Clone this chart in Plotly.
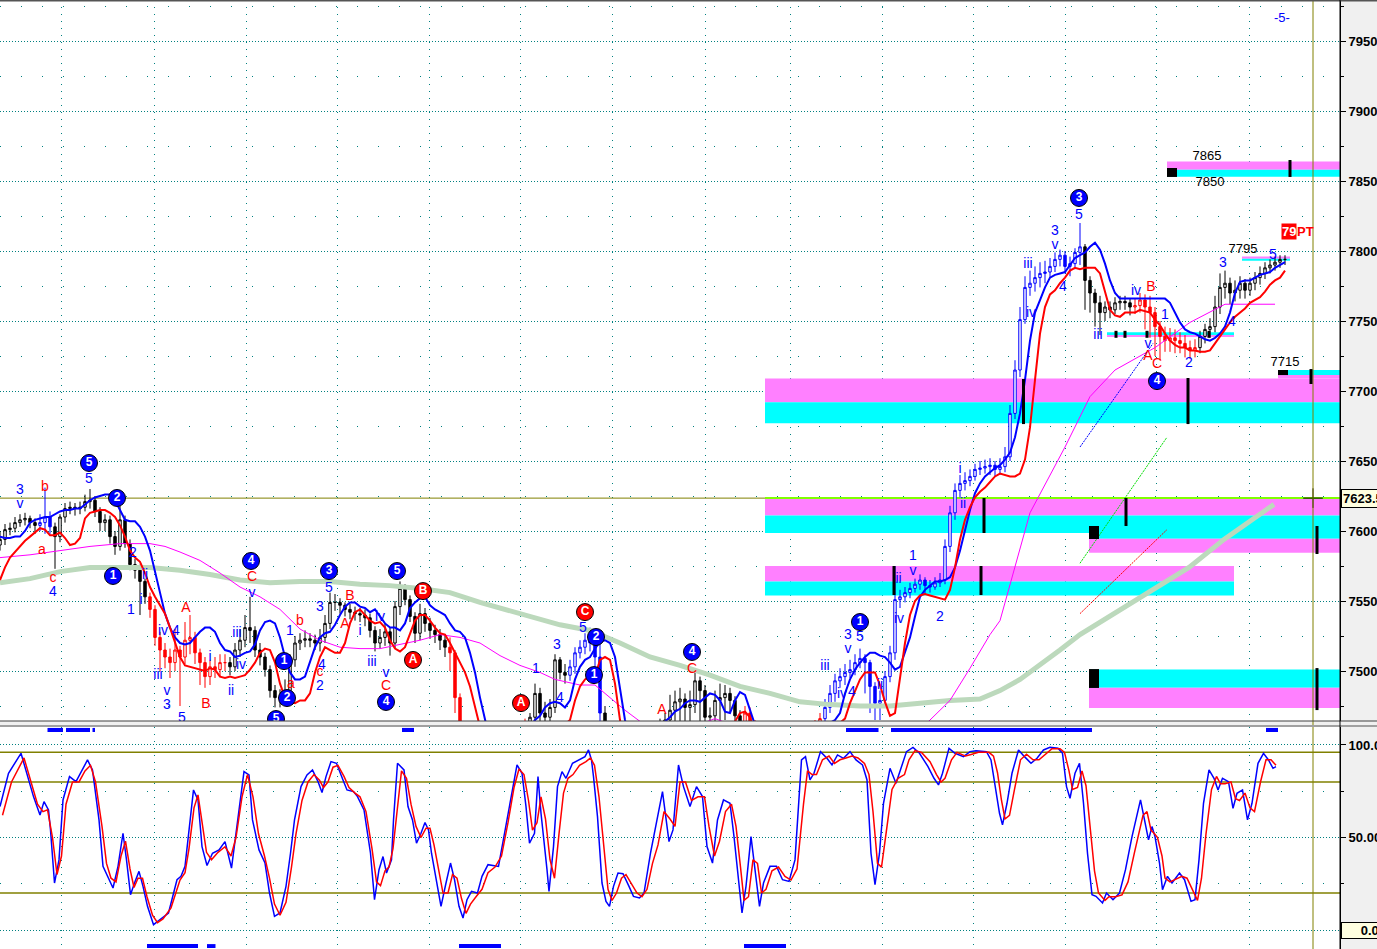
import plotly.graph_objects as go

# %% data: one price bar per column, x is the bar number
close = [
    7594, 7601, 7602, 7606, 7608, 7609, 7606, 7604, 7606, 7610,
    7603, 7596, 7610, 7616, 7617, 7616, 7617, 7621, 7622, 7614,
    7606, 7608, 7596, 7589, 7608, 7591, 7576, 7572, 7564, 7553,
    7544, 7524, 7515, 7510, 7506, 7515, 7510, 7522, 7524, 7513,
    7506, 7496, 7503, 7501, 7506, 7506, 7503, 7515, 7522, 7531,
    7529, 7515, 7510, 7501, 7486, 7481, 7481, 7486, 7508, 7520,
    7522, 7523, 7522, 7520, 7524, 7534, 7549, 7549, 7547, 7544,
    7542, 7541, 7540, 7538, 7529, 7520, 7524, 7528, 7520, 7546,
    7559, 7551, 7539, 7527, 7541, 7534, 7529, 7526, 7522, 7517,
    7513, 7481, 7455, 7440, 7430, 7425, 7420, 7420, 7422, 7425,
    7430, 7435, 7440, 7445, 7450, 7455, 7467, 7484, 7470, 7467,
    7474, 7508, 7499, 7497, 7503, 7513, 7517, 7522, 7520, 7510,
    7470, 7450, 7440, 7435, 7430, 7430, 7432, 7435, 7440, 7445,
    7450, 7455, 7460, 7465, 7472, 7478, 7480, 7474, 7476, 7493,
    7486, 7467, 7468, 7479, 7481, 7484, 7479, 7468, 7460, 7470,
    7462, 7450, 7440, 7430, 7425, 7420, 7420, 7425, 7430, 7435,
    7440, 7448, 7455, 7460, 7466, 7474, 7484, 7493, 7496, 7499,
    7501, 7506, 7509, 7506, 7489, 7477, 7479, 7496, 7513, 7551,
    7553, 7556, 7559, 7562, 7565, 7561, 7560, 7563, 7565, 7589,
    7613, 7629, 7634, 7636, 7639, 7644, 7645, 7646, 7647, 7644,
    7646, 7653, 7684, 7715, 7751, 7774, 7777, 7781, 7784, 7785,
    7789, 7794, 7797, 7789, 7791, 7799, 7803, 7779, 7770, 7763,
    7756, 7760, 7758, 7763, 7764, 7763, 7760, 7761, 7765, 7760,
    7756, 7746, 7739, 7736, 7738, 7736, 7734, 7731, 7729, 7731,
    7739, 7744, 7746, 7760, 7774, 7777, 7770, 7772, 7777, 7772,
    7777, 7781, 7784, 7788, 7790, 7792, 7794, 7794,
]
first_open = 7590
bar_high = [
    7600, 7605, 7606, 7610, 7612, 7613, 7611, 7609, 7612, 7631,
    7614, 7606, 7612, 7620, 7621, 7620, 7621, 7626, 7630, 7625,
    7617, 7612, 7611, 7600, 7622, 7611, 7594, 7580, 7576, 7566,
    7556, 7547, 7528, 7520, 7516, 7530, 7518, 7535, 7540, 7528,
    7516, 7510, 7508, 7510, 7512, 7512, 7510, 7520, 7530, 7540,
    7553, 7532, 7520, 7513, 7504, 7490, 7487, 7494, 7512, 7525,
    7527, 7529, 7527, 7526, 7530, 7540, 7556, 7555, 7552, 7549,
    7548, 7546, 7545, 7544, 7541, 7532, 7530, 7534, 7531, 7550,
    7564, 7562, 7554, 7542, 7548, 7545, 7538, 7533, 7530, 7526,
    7524, 7515, 7484, 7458, 7445, 7440, 7435, 7435, 7437, 7440,
    7440, 7445, 7450, 7455, 7460, 7466, 7470, 7491, 7488, 7478,
    7480, 7512, 7510, 7505, 7508, 7517, 7522, 7527, 7531, 7524,
    7522, 7475, 7452, 7442, 7437, 7435, 7437, 7440, 7446, 7452,
    7456, 7461, 7466, 7470, 7483, 7486, 7488, 7484, 7486, 7500,
    7496, 7490, 7474, 7486, 7491, 7490, 7488, 7482, 7472, 7475,
    7474, 7465, 7452, 7442, 7432, 7427, 7425, 7430, 7435, 7440,
    7445, 7452, 7460, 7465, 7470, 7480, 7490, 7498, 7502, 7505,
    7508, 7512, 7516, 7512, 7508, 7492, 7486, 7500, 7518, 7575,
    7558, 7560, 7563, 7566, 7569, 7567, 7565, 7567, 7570, 7594,
    7618, 7634, 7640, 7642, 7644, 7648, 7650, 7651, 7652, 7650,
    7652, 7660, 7690, 7722, 7760, 7782, 7786, 7789, 7792, 7793,
    7795, 7799, 7801, 7800, 7796, 7802, 7820, 7805, 7782, 7773,
    7768, 7764, 7764, 7767, 7768, 7768, 7766, 7766, 7770, 7769,
    7768, 7760, 7750, 7746, 7745, 7744, 7742, 7740, 7736, 7737,
    7743, 7748, 7752, 7768, 7784, 7786, 7781, 7779, 7782, 7780,
    7781, 7785, 7789, 7792, 7794, 7796, 7797, 7797,
]
bar_low = [
    7586, 7590, 7597, 7599, 7603, 7604, 7602, 7598, 7600, 7598,
    7598, 7573, 7592, 7606, 7612, 7611, 7612, 7614, 7616, 7610,
    7600, 7600, 7591, 7583, 7586, 7588, 7572, 7566, 7540, 7548,
    7538, 7518, 7500, 7502, 7495, 7500, 7475, 7505, 7512, 7505,
    7490, 7488, 7490, 7495, 7496, 7500, 7497, 7500, 7510, 7517,
    7520, 7510, 7504, 7496, 7481, 7474, 7474, 7478, 7483, 7503,
    7515, 7517, 7517, 7515, 7514, 7520, 7530, 7543, 7541, 7539,
    7537, 7536, 7535, 7532, 7524, 7514, 7516, 7518, 7511, 7516,
    7540, 7547, 7535, 7520, 7522, 7528, 7523, 7520, 7515, 7510,
    7500, 7470, 7445, 7425, 7420, 7415, 7410, 7412, 7415, 7418,
    7420, 7425, 7430, 7435, 7440, 7445, 7450, 7455, 7462, 7462,
    7462, 7470, 7494, 7491, 7493, 7498, 7509, 7512, 7514, 7500,
    7460, 7440, 7430, 7425, 7420, 7420, 7422, 7425, 7430, 7435,
    7440, 7445, 7450, 7455, 7455, 7455, 7455, 7455, 7455, 7470,
    7460, 7455, 7455, 7460, 7460, 7465, 7470, 7460, 7450, 7455,
    7450, 7440, 7430, 7420, 7415, 7410, 7410, 7415, 7420, 7425,
    7430, 7435, 7442, 7450, 7455, 7462, 7470, 7478, 7488, 7490,
    7495, 7497, 7502, 7484, 7470, 7465, 7465, 7475, 7492, 7508,
    7545, 7549, 7552, 7556, 7558, 7555, 7556, 7558, 7560, 7562,
    7585, 7608, 7624, 7629, 7632, 7636, 7640, 7641, 7640, 7639,
    7640, 7642, 7650, 7680, 7710, 7748, 7768, 7771, 7774, 7777,
    7781, 7785, 7789, 7784, 7782, 7787, 7790, 7758, 7756, 7746,
    7740, 7750, 7752, 7755, 7758, 7758, 7754, 7755, 7756, 7744,
    7738, 7725, 7722, 7728, 7728, 7727, 7727, 7724, 7723, 7724,
    7727, 7734, 7738, 7742, 7755, 7766, 7762, 7764, 7766, 7766,
    7768, 7772, 7776, 7780, 7784, 7786, 7788, 7790,
]

# trend state of the bars (first bar, last bar, state)
trend_runs = [
    (0, 7, "flat"), (8, 10, "up"), (11, 29, "flat"), (30, 45, "down"),
    (46, 89, "flat"), (90, 105, "down"), (106, 113, "flat"), (114, 120, "up"),
    (121, 148, "flat"), (149, 164, "down"), (165, 216, "up"), (217, 226, "flat"),
    (227, 239, "down"), (240, 257, "flat"),
]

upper_band = [
    7596, 7595, 7595, 7596, 7596, 7600, 7606, 7608, 7609, 7610,
    7610, 7612, 7614, 7615, 7615, 7616, 7616, 7619, 7622, 7624,
    7625, 7626, 7626, 7622, 7615, 7608, 7607, 7607, 7603, 7596,
    7586, 7572, 7556, 7541, 7531, 7524, 7520, 7519, 7520, 7524,
    7528, 7531, 7531, 7528, 7520, 7515, 7514, 7510, 7511, 7513,
    7514, 7519, 7529, 7535, 7536, 7534, 7524, 7510, 7499, 7494,
    7494, 7496, 7506, 7517, 7524, 7527, 7528, 7533, 7540, 7546,
    7549, 7549, 7546, 7545, 7542, 7544, 7539, 7534, 7531, 7531,
    7529, 7534, 7545, 7549, 7552, 7553, 7547, 7544, 7542, 7540,
    7534, 7529, 7528, 7524, 7513, 7499, 7481, 7465, 7450, 7440,
    7435, 7432, 7432, 7435, 7442, 7452, 7460, 7465, 7468, 7474,
    7477, 7478, 7477, 7474, 7479, 7494, 7503, 7508, 7510, 7516,
    7521, 7522, 7520, 7510, 7486, 7465, 7450, 7440, 7435, 7435,
    7440, 7448, 7458, 7464, 7467, 7471, 7473, 7477, 7479, 7479,
    7478, 7481, 7484, 7483, 7479, 7471, 7470, 7479, 7485, 7483,
    7472, 7462, 7450, 7440, 7432, 7428, 7425, 7425, 7427, 7430,
    7435, 7440, 7447, 7453, 7458, 7461, 7463, 7465, 7470, 7484,
    7494, 7501, 7506, 7510, 7513, 7513, 7511, 7510, 7506, 7501,
    7503, 7513, 7524, 7539, 7553, 7558, 7561, 7564, 7564, 7565,
    7567, 7574, 7586, 7601, 7615, 7627, 7634, 7639, 7642, 7645,
    7647, 7651, 7656, 7667, 7684, 7708, 7736, 7756, 7765, 7774,
    7781, 7783, 7784, 7785, 7790, 7795, 7797, 7799, 7803, 7806,
    7801, 7791, 7779, 7770, 7766, 7766, 7766, 7766, 7766, 7766,
    7766, 7766, 7766, 7766, 7763, 7756, 7749, 7744, 7742, 7741,
    7739, 7737, 7736, 7738, 7741, 7746, 7756, 7770, 7778, 7779,
    7779, 7781, 7783, 7784, 7785, 7788, 7790, 7792,
]

lower_band = [
    7565, 7574, 7581, 7585, 7589, 7593, 7596, 7599, 7602, 7601,
    7597, 7597, 7599, 7595, 7590, 7591, 7595, 7609, 7613, 7614,
    7615, 7615, 7613, 7610, 7604, 7596, 7586, 7581, 7578, 7570,
    7560, 7553, 7547, 7541, 7531, 7520, 7510, 7504, 7503, 7502,
    7501, 7500, 7502, 7501, 7496, 7495, 7496, 7495, 7496, 7497,
    7501, 7506, 7513, 7516, 7515, 7506, 7491, 7481, 7478, 7477,
    7479, 7479, 7484, 7499, 7510, 7517, 7515, 7513, 7513, 7520,
    7534, 7542, 7544, 7540, 7536, 7534, 7535, 7531, 7522, 7516,
    7514, 7517, 7527, 7536, 7540, 7540, 7536, 7531, 7527, 7526,
    7520, 7513, 7506, 7499, 7489, 7474, 7460, 7448, 7438, 7430,
    7425, 7422, 7420, 7420, 7422, 7425, 7430, 7436, 7442, 7448,
    7453, 7457, 7460, 7462, 7465, 7479, 7489, 7494, 7496, 7496,
    7508, 7510, 7508, 7491, 7465, 7448, 7435, 7428, 7425, 7425,
    7428, 7432, 7437, 7442, 7446, 7450, 7453, 7455, 7457, 7458,
    7459, 7460, 7461, 7462, 7462, 7461, 7462, 7464, 7470, 7471,
    7467, 7455, 7442, 7432, 7425, 7420, 7418, 7418, 7420, 7423,
    7428, 7433, 7438, 7443, 7448, 7452, 7456, 7460, 7463, 7466,
    7477, 7486, 7494, 7499, 7499, 7499, 7490, 7478, 7468, 7470,
    7495, 7520, 7540, 7550, 7554, 7555, 7554, 7553, 7552, 7551,
    7558, 7574, 7594, 7608, 7617, 7624, 7628, 7631, 7635, 7639,
    7641, 7640, 7639, 7639, 7641, 7651, 7674, 7708, 7741, 7760,
    7769, 7772, 7777, 7781, 7786, 7788, 7787, 7788, 7788, 7788,
    7784, 7770, 7758, 7754, 7753, 7756, 7756, 7756, 7758, 7757,
    7756, 7751, 7747, 7741, 7736, 7733, 7731, 7731, 7729, 7729,
    7728, 7728, 7729, 7734, 7739, 7744, 7749, 7753, 7756, 7759,
    7763, 7765, 7767, 7771, 7776, 7779, 7781, 7786,
]

# slow averages, read at a few bars
ma_mid_bar = [0, 6, 12, 18, 24, 30, 33, 36, 40, 44, 48, 52, 56, 60, 64, 68, 72, 76, 80, 84,
              88, 92, 96, 100, 104, 108, 111, 116, 119, 122, 125, 128, 132, 136, 140, 143,
              146, 152, 160, 170, 180, 186, 190, 194, 198, 200, 206, 213, 218, 223, 231, 238, 245, 255]
ma_mid = [7581, 7583, 7586, 7589, 7591, 7591, 7589, 7585, 7579, 7570, 7560, 7553, 7544, 7530,
          7522, 7517, 7516, 7516, 7519, 7522, 7526, 7524, 7520, 7511, 7504, 7499, 7494, 7490,
          7490, 7481, 7472, 7464, 7455, 7455, 7462, 7466, 7462, 7450, 7440, 7435, 7445, 7465,
          7479, 7502, 7526, 7536, 7613, 7660, 7696, 7715, 7731, 7749, 7762, 7762]
ma_slow_bar = [0, 6, 12, 18, 24, 30, 36, 42, 48, 54, 60, 66, 72, 78, 84, 90, 96, 102, 108, 112,
               118, 124, 130, 136, 142, 148, 154, 160, 166, 172, 178, 184, 190, 196, 200, 204,
               208, 212, 216, 220.6, 230.6, 237.8, 244.8, 254.8]
ma_slow = [7563, 7566, 7571, 7574, 7574, 7574, 7572, 7569, 7565, 7563, 7564, 7564, 7562, 7561,
           7559, 7556, 7549, 7543, 7537, 7533, 7529, 7520, 7510, 7504, 7497, 7489, 7484, 7478,
           7476, 7475, 7475, 7477, 7479, 7480, 7486, 7494, 7504, 7515, 7526, 7536, 7558, 7574,
           7594, 7619]

# short trend lines (start bar, start price), (end bar, end price)
trend_up_blue = [(216.0, 7660), (230.6, 7734)]
trend_up_green = [(216.0, 7577), (233.4, 7667)]
trend_up_red = [(216.0, 7541), (233.4, 7601)]

# price zones: start bar, end bar, top, split, bottom, kind
zones = [
    (153.0, 268.0, 7709, 7692, 7677, "sell"),
    (255.6, 268.0, 7715, 7711.5, 7709, "buy"),
    (153.0, 268.0, 7623.5, 7611, 7598.5, "sell"),
    (217.8, 268.0, 7598.5, 7594.5, 7584.5, "buy"),
    (153.0, 246.8, 7575, 7564, 7554, "sell"),
    (217.8, 268.0, 7501, 7488, 7473.5, "buy"),
    (233.4, 268.0, 7864, 7858, 7853, "sell"),
    (248.4, 258.0, 7796, 7794.5, 7793, "sell"),
    (221.4, 246.8, 7742, 7740, 7738.5, "buy"),
]

# black order marks: bar, top, bottom
order_marks = [
    (196.8, 7623.6, 7598.6), (225.2, 7623.6, 7603.6), (204.7, 7708.6, 7676.4),
    (237.6, 7709.3, 7676.4), (178.8, 7575, 7554.3), (196.2, 7575, 7554.3),
    (258.0, 7865, 7852.9), (262.2, 7715.7, 7705), (263.4, 7603.6, 7583.6),
    (263.4, 7502.1, 7472.1), (223.2, 7743, 7738), (225.0, 7743, 7738),
    (229.4, 7743, 7738), (241.8, 7743, 7738),
]
# black entry boxes: start bar, end bar, top, bottom
entry_boxes = [
    (233.4, 235.4, 7859.3, 7852.9), (255.6, 257.6, 7715, 7711.4),
    (217.8, 219.8, 7603.6, 7594.3), (217.8, 219.8, 7501.4, 7487.9),
]

# stochastics (bar, value)
stoch_k = [
    (0, 66.7), (1.7, 84.7), (4.2, 95.5), (5.5, 82.9), (6.7, 72.1), (8.0, 62.2), (8.8, 69.4),
    (9.7, 64.9), (10.1, 54.1), (10.9, 25.4), (11.8, 37.9), (12.6, 70.3), (13.9, 82.9),
    (15.2, 80.2), (16.4, 86.5), (17.5, 91.9), (18.5, 86.5), (19.8, 59.5), (20.6, 34.4),
    (21.5, 29.0), (22.6, 22.7), (23.6, 34.4), (24.6, 52.3), (25.3, 37.9), (26.1, 19.1),
    (26.9, 25.4), (27.8, 31.7), (28.6, 23.6), (29.5, 12.8), (30.7, 2.9), (32.0, 5.6),
    (33.7, 9.2), (35.4, 27.2), (36.2, 29.0), (37.0, 34.4), (37.9, 57.7), (38.7, 75.7),
    (39.6, 70.3), (40.4, 45.1), (41.4, 34.9), (42.5, 41.5), (43.8, 43.3), (45.0, 47.8),
    (46.3, 33.5), (47.6, 59.5), (48.8, 85.6), (49.8, 83.8), (50.5, 59.5), (51.8, 43.3),
    (53.0, 36.2), (53.9, 20.0), (54.9, 7.4), (56.0, 9.2), (57.2, 23.6), (58.1, 41.5),
    (58.9, 59.5), (60.2, 77.5), (61.4, 83.8), (62.5, 86.5), (63.6, 80.2), (64.4, 74.3),
    (65.2, 82.9), (66.2, 91.0), (67.3, 90.1), (68.6, 81.1), (69.4, 75.7), (70.7, 74.8),
    (71.5, 72.1), (72.8, 64.9), (74.1, 41.5), (74.9, 16.4), (75.8, 32.6), (76.6, 39.7),
    (77.3, 30.8), (78.3, 37.9), (78.7, 59.5), (79.5, 90.1), (80.8, 86.5), (81.6, 66.7),
    (82.5, 59.5), (83.3, 46.9), (84.2, 52.3), (85.0, 58.1), (85.7, 54.1), (86.3, 41.5),
    (87.1, 29.0), (88.2, 12.8), (89.2, 25.4), (90.1, 36.2), (90.9, 27.2), (91.8, 12.8),
    (92.6, 6.5), (93.4, 16.4), (94.3, 20.9), (95.5, 20.0), (96.4, 29.0), (97.6, 35.3),
    (99.7, 34.4), (101.0, 54.1), (102.3, 73.9), (103.4, 89.2), (104.4, 84.7), (105.2, 66.7),
    (105.9, 46.9), (106.9, 52.3), (107.6, 82.9), (108.2, 63.1), (109.4, 32.6), (109.8, 20.9),
    (110.7, 45.1), (111.5, 77.5), (112.4, 85.6), (113.2, 82.0), (114.5, 90.1), (115.7, 91.9),
    (117.0, 93.7), (117.7, 97.3), (118.3, 91.9), (118.7, 82.9), (119.5, 61.3), (120.4, 25.4),
    (121.2, 15.5), (121.9, 12.8), (122.7, 23.6), (123.6, 30.8), (124.6, 30.4), (125.8, 23.6),
    (126.7, 18.2), (127.9, 17.3), (128.8, 20.0), (130.1, 41.5), (130.9, 52.3), (132.5, 74.8),
    (133.8, 47.8), (134.6, 54.1), (135.7, 89.2), (136.7, 77.5), (138.0, 66.7), (139.3, 77.5),
    (140.5, 72.1), (141.4, 45.1), (142.5, 36.2), (143.5, 59.5), (144.7, 70.3), (146.0, 68.5),
    (146.8, 50.5), (147.7, 27.2), (148.4, 9.2), (149.2, 23.6), (150.2, 50.5), (151.0, 32.6),
    (151.9, 12.8), (152.7, 25.4), (154.0, 34.4), (155.3, 34.4), (156.5, 27.2), (157.8, 26.3),
    (159.0, 37.9), (160.3, 91.9), (161.1, 93.7), (162.0, 81.1), (162.8, 84.7), (164.1, 96.4),
    (165.4, 92.8), (166.4, 89.2), (167.5, 94.6), (168.7, 92.8), (170.0, 96.4), (171.2, 91.9),
    (172.5, 89.2), (173.4, 81.1), (174.2, 41.5), (175.0, 24.5), (175.9, 41.5), (176.7, 68.5),
    (178.0, 87.4), (179.2, 79.3), (180.5, 90.1), (181.3, 96.4), (182.6, 98.7), (183.9, 95.5),
    (185.6, 88.3), (186.8, 82.0), (187.7, 78.4), (188.5, 84.7), (189.8, 98.2), (191.0, 95.5),
    (192.7, 93.7), (194.0, 96.4), (195.2, 96.9), (197.3, 96.4), (198.2, 91.9), (199.0, 77.5),
    (199.9, 63.1), (200.5, 56.8), (201.4, 68.5), (202.4, 84.7), (203.7, 97.3), (204.9, 93.7),
    (206.2, 90.1), (207.4, 92.8), (208.7, 97.3), (210.0, 98.7), (211.6, 98.2), (212.5, 95.5),
    (213.3, 77.5), (214.0, 71.2), (215.0, 84.7), (215.9, 90.1), (216.7, 68.5), (217.5, 41.5),
    (218.4, 19.1), (219.2, 18.2), (220.5, 14.6), (221.3, 20.0), (222.6, 16.4), (223.9, 20.0),
    (225.1, 32.6), (226.4, 50.5), (228.1, 70.3), (228.9, 59.5), (229.7, 48.7), (230.4, 55.9),
    (231.0, 50.5), (231.9, 36.2), (232.5, 21.8), (233.5, 29.0), (234.4, 25.4), (235.9, 30.8),
    (236.9, 27.2), (238.2, 15.5), (239.0, 16.4), (239.8, 37.9), (240.7, 68.5), (241.8, 86.5),
    (242.8, 82.0), (243.6, 75.7), (244.5, 82.0), (245.7, 80.2), (246.6, 65.8), (247.4, 73.9),
    (248.5, 75.7), (249.5, 59.5), (250.4, 68.5), (251.6, 90.1), (252.7, 95.5), (253.7, 91.9),
    (254.6, 87.4), (255.2, 88.3),
]
stoch_d = [
    (0.5, 62), (2.3, 80), (4.8, 93), (6.2, 80), (7.5, 68), (8.6, 64), (9.5, 65), (10.5, 50),
    (11.4, 30), (12.3, 40), (13.2, 68), (14.5, 80), (15.8, 80), (17.0, 86), (18.1, 89),
    (19.1, 80), (20.4, 56), (21.3, 36), (22.2, 28), (23.2, 26), (24.2, 40), (25.1, 48),
    (26.0, 33), (26.8, 23), (27.6, 28), (28.5, 28), (29.4, 18), (30.5, 8), (31.5, 4), (32.6, 6),
    (34.2, 12), (36.0, 27), (37.0, 31), (37.8, 44), (38.8, 66), (39.6, 73), (40.4, 58),
    (41.3, 42), (42.3, 38), (43.6, 42), (45.0, 45), (46.2, 40), (47.2, 50), (48.4, 72),
    (49.5, 84), (50.6, 72), (51.7, 52), (52.9, 40), (53.9, 28), (54.9, 14), (56.0, 8),
    (57.2, 15), (58.3, 34), (59.2, 52), (60.4, 70), (61.6, 80), (62.8, 84), (63.9, 81),
    (64.7, 77), (65.6, 80), (66.6, 88), (67.6, 89), (68.8, 83), (69.8, 77), (71.0, 74),
    (72.0, 72), (73.2, 64), (74.4, 44), (75.3, 26), (76.1, 24), (77.0, 32), (77.8, 34),
    (78.6, 44), (79.5, 68), (80.3, 86), (81.3, 82), (82.2, 68), (83.2, 56), (84.2, 50),
    (85.2, 55), (86.0, 55), (86.8, 46), (87.7, 33), (88.6, 20), (89.6, 20), (90.5, 30),
    (91.4, 28), (92.3, 17), (93.2, 9), (94.1, 14), (95.2, 18), (96.4, 22), (97.6, 31),
    (99.0, 34), (100.3, 40), (101.6, 58), (102.8, 77), (103.8, 87), (104.8, 84), (105.7, 70),
    (106.5, 54), (107.4, 58), (108.2, 72), (109.1, 60), (110.0, 38), (110.9, 28), (111.8, 52),
    (112.7, 74), (113.6, 82), (114.6, 84), (115.9, 89), (117.2, 91), (118.1, 93), (118.9, 89),
    (119.8, 72), (120.7, 45), (121.6, 22), (122.4, 16), (123.3, 20), (124.3, 28), (125.2, 30),
    (126.3, 25), (127.4, 20), (128.4, 18), (129.4, 22), (130.5, 36), (131.6, 46), (132.8, 64),
    (134.0, 60), (135.0, 56), (136.0, 80), (137.1, 80), (138.3, 70), (139.6, 72), (140.9, 72),
    (141.8, 56), (142.9, 40), (143.9, 48), (145.1, 64), (146.3, 68), (147.2, 56), (148.1, 34),
    (148.8, 16), (149.7, 18), (150.6, 38), (151.5, 36), (152.3, 20), (153.2, 22), (154.4, 32),
    (155.7, 34), (157.0, 29), (158.2, 27), (159.4, 33), (160.7, 68), (161.5, 86), (162.4, 84),
    (163.3, 84), (164.5, 92), (165.8, 94), (166.9, 90), (168.0, 92), (169.2, 93), (170.4, 94),
    (171.6, 93), (172.9, 90), (173.8, 84), (174.6, 64), (175.5, 36), (176.3, 34), (177.2, 52),
    (178.4, 76), (179.6, 82), (180.9, 84), (181.8, 92), (183.0, 97), (184.3, 96), (186.0, 91),
    (187.3, 84), (188.2, 80), (189.0, 82), (190.3, 92), (191.4, 96), (193.1, 94), (194.4, 95),
    (195.7, 96), (197.8, 96), (198.7, 94), (199.5, 85), (200.3, 70), (201.0, 60), (201.9, 62),
    (202.9, 76), (204.1, 92), (205.3, 95), (206.6, 92), (207.8, 92), (209.1, 95), (210.4, 98),
    (212.0, 98), (212.9, 96), (213.8, 86), (214.5, 76), (215.5, 77), (216.4, 86), (217.2, 78),
    (218.0, 56), (218.9, 32), (219.7, 20), (221.0, 16), (221.8, 18), (223.1, 18), (224.4, 19),
    (225.6, 26), (226.9, 42), (228.6, 62), (229.4, 64), (230.2, 54), (230.9, 52), (231.5, 50),
    (232.4, 40), (233.0, 28), (234.0, 26), (234.9, 27), (236.4, 29), (237.4, 28), (238.7, 20),
    (239.5, 16), (240.3, 28), (241.2, 52), (242.3, 76), (243.3, 83), (244.1, 79), (245.0, 79),
    (246.2, 80), (247.1, 71), (247.9, 70), (249.0, 74), (250.0, 66), (250.9, 64), (252.1, 80),
    (253.2, 92), (254.2, 92), (255.2, 89),
]
stoch_levels = [96, 80, 20]
# signal bars above / below the oscillator: start bar, end bar
signal_top = [(9.5, 12.6), (13.2, 18.0), (18.5, 19.0), (80.4, 82.8), (169.2, 175.7), (178.2, 218.4), (253.2, 255.6)]
signal_bottom = [(29.4, 39.6), (41.4, 43.1), (91.8, 100.2), (148.8, 157.2)]

session_breaks = [12.2, 30.8, 49.2, 67.4, 85.8, 104, 122.4, 141, 158, 176.4, 194.6, 213, 231.2, 249.8]
last_price = 7623.5
cursor_bar = 262.6

# wave counts: bar, price, text
blue_marks = [
    (4, 7628.6, "3"), (4, 7618.6, "v"), (10.6, 7556.4, "4"), (17.8, 7637.1, "5"),
    (26.6, 7584.3, "2"), (29, 7567.9, "ii"), (28.2, 7550.7, "i"), (26.2, 7542.9, "1"),
    (32.6, 7527.9, "iv"), (35.2, 7527.9, "4"), (31.6, 7497.1, "iii"), (33.4, 7485.7, "v"),
    (33.4, 7475.7, "3"), (36.4, 7466.4, "5"), (42, 7510, "i"), (46.2, 7485.7, "ii"),
    (47.4, 7527.1, "iii"), (48.2, 7504.3, "iv"), (50.4, 7555.7, "v"), (58, 7527.9, "1"),
    (64, 7545.7, "3"), (65.8, 7559.3, "5"), (64.4, 7504.3, "4"), (64, 7489.3, "2"),
    (72, 7527.9, "i"), (76, 7537.9, "iv"), (74.4, 7506.4, "iii"), (77.2, 7497.9, "v"),
    (107.2, 7501.4, "1"), (111.4, 7517.9, "3"), (112, 7480.7, "4"), (116.6, 7530.7, "5"),
    (165, 7502.9, "iii"), (169.6, 7525.7, "3"), (169.6, 7515.7, "v"), (172, 7523.6, "5"),
    (168.4, 7482.9, "iv"), (170.4, 7485, "4"), (176, 7490, "ii"), (179.4, 7565.7, "iii"),
    (179.8, 7537.1, "iv"), (182.6, 7582.1, "1"), (182.6, 7571.4, "v"), (188, 7537.9, "2"),
    (192, 7643.6, "i"), (192.6, 7618.6, "ii"), (205.6, 7790.7, "iii"), (206.2, 7755.7, "iv"),
    (211, 7814.3, "3"), (211, 7804.3, "v"), (215.8, 7825.7, "5"), (212.6, 7774.3, "4"),
    (219.6, 7740, "iii"), (227.2, 7771.4, "iv"), (233, 7753.6, "1"), (229.6, 7732.9, "v"),
    (237.8, 7720, "2"), (244.6, 7791.4, "3"), (246.4, 7749.3, "4"), (254.6, 7797.1, "5"),
]
red_marks = [
    (9, 7631.4, "b"), (8.4, 7586.4, "a"), (10.6, 7566.4, "c"), (37.2, 7545, "A"),
    (41.2, 7476.4, "B"), (50.4, 7567.1, "C"), (58.2, 7490.7, "a"), (60, 7535.7, "b"),
    (70, 7552.9, "B"), (69, 7532.9, "A"), (64, 7498.6, "c"), (77.2, 7489.3, "C"),
    (132.4, 7472.1, "A"), (138.4, 7501.4, "C"), (230.2, 7774.3, "B"), (229.6, 7725, "A"),
    (231.4, 7718.6, "C"),
]
blue_circles = [
    (17.8, 7648.6, "5"), (23.4, 7623.6, "2"), (22.6, 7567.9, "1"), (50.2, 7578.6, "4"),
    (56.8, 7507.1, "1"), (57.4, 7480.7, "2"), (55.2, 7465.7, "5"), (65.8, 7571.4, "3"),
    (77.2, 7477.9, "4"), (79.4, 7571.4, "5"), (119.2, 7524.3, "2"), (118.8, 7497.1, "1"),
    (138.4, 7513.6, "4"), (172, 7535, "1"), (215.8, 7837.9, "3"), (231.4, 7707.1, "4"),
]
red_circles = [(84.6, 7557.1, "B"), (82.6, 7507.9, "A"), (104.2, 7477.1, "A"), (117, 7542.1, "C")]
level_texts = [(248.6, 7800.7, "7795"), (241.4, 7867.1, "7865"), (242, 7848.6, "7850"), (257, 7720, "7715")]

# %% styles
TEAL = "#008080"
OLIVE = "#808000"
MAGENTA_Z = "#ff80ff"
CYAN_Z = "#00ffff"
trend_color = {"flat": "black", "up": "#0000ff", "down": "#ff0000"}
FONT = "Liberation Sans"

W, H = 1377, 949
PLOT_W = 1340
TOP_DOM = 1 - 721 / H
BOT_DOM = 222 / H
STRIP = 1 + (W - PLOT_W) / PLOT_W

# %% OHLC
opens = [first_open] + close[:-1]
highs = [max(h, o, c) for h, o, c in zip(bar_high, opens, close)]
lows = [min(lo, o, c) for lo, o, c in zip(bar_low, opens, close)]

fig = go.Figure()

fig.add_trace(go.Scatter(x=ma_slow_bar, y=ma_slow, mode="lines",
                         line=dict(color="#bcd9bc", width=5), hoverinfo="skip"))
fig.add_trace(go.Scatter(x=ma_mid_bar, y=ma_mid, mode="lines",
                         line=dict(color="#ff00ff", width=1), hoverinfo="skip"))
for pts, col in [(trend_up_blue, "#0000ff"), (trend_up_green, "#00dd00"), (trend_up_red, "#ff0000")]:
    fig.add_trace(go.Scatter(x=[p[0] for p in pts], y=[p[1] for p in pts], mode="lines",
                             line=dict(color=col, width=1, dash="2px,1px"), hoverinfo="skip"))

# candles, one trace per trend colour
for state, col in trend_color.items():
    idx = [i for s, e, st in trend_runs if st == state for i in range(s, min(e, len(close) - 1) + 1)]
    fig.add_trace(go.Candlestick(
        x=idx,
        open=[opens[i] for i in idx], high=[highs[i] for i in idx],
        low=[lows[i] for i in idx], close=[close[i] for i in idx],
        increasing=dict(line=dict(color=col, width=1), fillcolor="white"),
        decreasing=dict(line=dict(color=col, width=1), fillcolor=col),
        whiskerwidth=0, hoverinfo="skip",
    ))

fig.add_trace(go.Scatter(x=list(range(len(upper_band))), y=upper_band, mode="lines",
                         line=dict(color="#0000ff", width=2), hoverinfo="skip"))
fig.add_trace(go.Scatter(x=list(range(len(lower_band))), y=lower_band, mode="lines",
                         line=dict(color="#ff0000", width=2), hoverinfo="skip"))

# wave labels
for marks, col in [(blue_marks, "#0000ff"), (red_marks, "#ff0000"), (level_texts, "black")]:
    fig.add_trace(go.Scatter(
        x=[m[0] for m in marks], y=[m[1] for m in marks], text=[m[2] for m in marks],
        mode="text", textposition="middle center",
        textfont=dict(family=FONT, size=14 if col != "black" else 13, color=col),
        hoverinfo="skip",
    ))
for marks, col in [(blue_circles, "#0000ff"), (red_circles, "#ff0000")]:
    fig.add_trace(go.Scatter(
        x=[m[0] for m in marks], y=[m[1] for m in marks], text=[m[2] for m in marks],
        mode="markers+text", textposition="middle center",
        marker=dict(size=17, color=col, line=dict(color="black", width=1)),
        textfont=dict(family=FONT, size=12, color="white", weight="bold"),
        hoverinfo="skip",
    ))

fig.add_trace(go.Scatter(x=[cursor_bar], y=[last_price], mode="markers",
                         marker=dict(symbol="cross-thin", size=14, line=dict(color="black", width=1)),
                         hoverinfo="skip"))

# stochastic panel
fig.add_trace(go.Scatter(x=[p[0] for p in stoch_k], y=[p[1] for p in stoch_k], mode="lines",
                         line=dict(color="#0000ff", width=1.5), xaxis="x2", yaxis="y2", hoverinfo="skip"))
fig.add_trace(go.Scatter(x=[p[0] for p in stoch_d], y=[p[1] for p in stoch_d], mode="lines",
                         line=dict(color="#ff0000", width=1.5), xaxis="x2", yaxis="y2", hoverinfo="skip"))

# %% shapes
shapes = []
for x0, x1, hi, mid, lo, kind in zones:
    c_top, c_bot = (MAGENTA_Z, CYAN_Z) if kind == "sell" else (CYAN_Z, MAGENTA_Z)
    shapes.append(dict(type="rect", xref="x", yref="y", x0=x0, x1=x1, y0=mid, y1=hi,
                       fillcolor=c_top, line_width=0, layer="between"))
    shapes.append(dict(type="rect", xref="x", yref="y", x0=x0, x1=x1, y0=lo, y1=mid,
                       fillcolor=c_bot, line_width=0, layer="between"))
shapes.append(dict(type="line", xref="x", yref="y", x0=0, x1=268, y0=last_price, y1=last_price,
                   line=dict(color=OLIVE, width=1), layer="between"))
shapes.append(dict(type="line", xref="x", yref="y", x0=153, x1=268, y0=last_price, y1=last_price,
                   line=dict(color="#80ff00", width=2), layer="between"))
shapes.append(dict(type="line", xref="x", yref="paper", x0=cursor_bar, x1=cursor_bar, y0=0, y1=1,
                   line=dict(color=OLIVE, width=1)))
for b, hi, lo in order_marks:
    shapes.append(dict(type="line", xref="x", yref="y", x0=b, x1=b, y0=lo, y1=hi,
                       line=dict(color="black", width=3)))
for x0, x1, hi, lo in entry_boxes:
    shapes.append(dict(type="rect", xref="x", yref="y", x0=x0, x1=x1, y0=lo, y1=hi,
                       fillcolor="black", line_width=0))
for lv in stoch_levels:
    shapes.append(dict(type="line", xref="x2", yref="y2", x0=0, x1=268, y0=lv, y1=lv,
                       line=dict(color=OLIVE, width=1.5), layer="between"))
for x0, x1 in signal_top:
    shapes.append(dict(type="rect", xref="x2", yref="y2", x0=x0, x1=x1, y0=107.0, y1=109.2,
                       fillcolor="#0000ff", line_width=0))
for x0, x1 in signal_bottom:
    shapes.append(dict(type="rect", xref="x2", yref="y2", x0=x0, x1=x1, y0=-9.7, y1=-7.6,
                       fillcolor="#0000ff", line_width=0))
# frame: top border, panel separator, axis line
shapes += [
    dict(type="line", xref="paper", yref="paper", x0=0, x1=STRIP, y0=0.9995, y1=0.9995,
         line=dict(color="#555555", width=2)),
    dict(type="line", xref="paper", yref="paper", x0=0, x1=STRIP, y0=TOP_DOM, y1=TOP_DOM,
         line=dict(color="#404040", width=1)),
    dict(type="line", xref="paper", yref="paper", x0=0, x1=STRIP, y0=BOT_DOM + 0.001, y1=BOT_DOM + 0.001,
         line=dict(color="#a0a0a0", width=2)),
    dict(type="line", xref="paper", yref="paper", x0=1, x1=1, y0=0, y1=1, line=dict(color="black", width=1)),
]

annotations = [
    dict(xref="paper", yref="y", x=1.0005, y=last_price, text="<b>7623.50</b>", showarrow=False,
         xanchor="left", yanchor="middle", bgcolor="#ffffe0", bordercolor="black", borderwidth=1,
         borderpad=1, font=dict(family=FONT, size=13, color="black")),
    dict(xref="paper", yref="y2", x=1.0005, y=0, text="<b>0.00</b>", showarrow=False, width=44,
         align="right", xanchor="left", yanchor="middle", bgcolor="#ffffe0", bordercolor="black",
         borderwidth=1, borderpad=0, font=dict(family=FONT, size=13, color="black")),
    dict(xref="x", yref="y", x=256.2, y=7814.3, text="<b>79</b>", showarrow=False, xanchor="left",
         bgcolor="#ff0000", borderpad=0, font=dict(family=FONT, size=13, color="white")),
    dict(xref="x", yref="y", x=259.2, y=7814.3, text="<b>PT</b>", showarrow=False, xanchor="left",
         borderpad=0, font=dict(family=FONT, size=13, color="#ff0000")),
    dict(xref="x", yref="y", x=256.4, y=7967.1, text="-5-", showarrow=False,
         font=dict(family=FONT, size=13, color="#0000ff")),
]

xcommon = dict(range=[0, 268], showticklabels=False, ticks="", tickmode="array", tickvals=session_breaks,
               showgrid=True, gridcolor=TEAL, griddash="1px,6px", gridwidth=1, zeroline=False,
               showline=False, automargin=False)
ycommon = dict(side="right", showline=True, linecolor="black", linewidth=1, ticks="outside", ticklen=5,
               tickcolor="black", showgrid=True, gridcolor=TEAL, griddash="1px,2px", gridwidth=1,
               zeroline=False, automargin=False,
               tickfont=dict(family=FONT, size=13, color="black", weight="bold"))

fig.update_layout(
    width=W, height=H,
    margin=dict(l=0, r=W - PLOT_W, t=0, b=0, autoexpand=False),
    paper_bgcolor="#f0f0f0", plot_bgcolor="white",
    showlegend=False,
    shapes=shapes, annotations=annotations,
    xaxis=dict(domain=[0, 1], anchor="y", rangeslider=dict(visible=False), **xcommon),
    xaxis2=dict(domain=[0, 1], anchor="y2", matches="x", **xcommon),
    yaxis=dict(domain=[TOP_DOM, 1], range=[7464.3, 7979.3], anchor="x", tickmode="linear",
               tick0=7500, dtick=50, tickformat="d",
               minor=dict(dtick=25, tick0=7500, ticks="outside", ticklen=3, tickcolor="black",
                          showgrid=True, gridcolor=TEAL, griddash="1px,20px"),
               **ycommon),
    yaxis2=dict(domain=[0, BOT_DOM], range=[-10.25, 109.71], anchor="x2", tickmode="array",
                tickvals=[0, 50, 100], ticktext=["0.00", "50.00", "100.00"],
                minor=dict(tickmode="array", tickvals=[25, 75], ticks="outside", ticklen=3,
                           tickcolor="black", showgrid=True, gridcolor=TEAL, griddash="1px,20px"),
                **ycommon),
)

# the page body has a default 8 px margin; drop it so the figure fills the window
fig.write_html("out.html", config={"displayModeBar": False},
               post_script="document.body.style.margin='0px';")
